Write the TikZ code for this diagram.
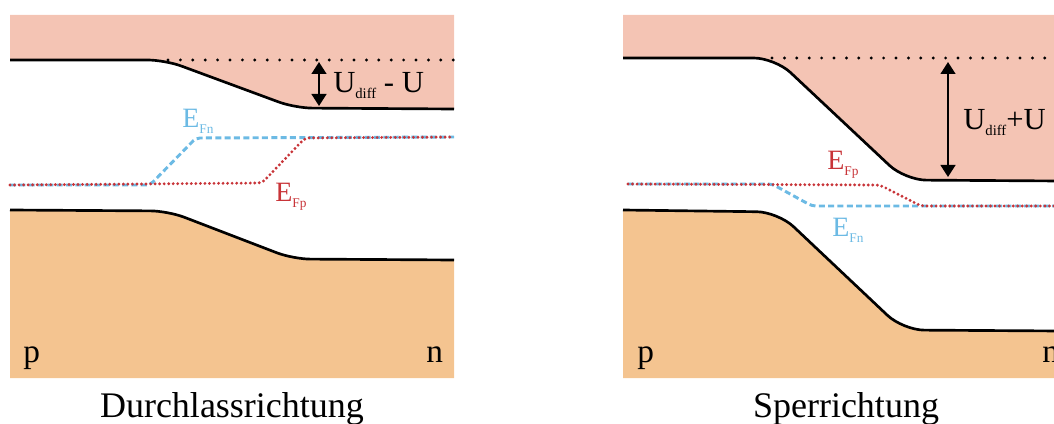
\documentclass[tikz,border=0pt]{standalone}
\usepackage{fontspec}
\setmainfont{Liberation Serif}
\usetikzlibrary{arrows.meta}
\definecolor{cbpink}{RGB}{244,196,180}
\definecolor{vborange}{RGB}{244,196,144}
\definecolor{fnblue}{RGB}{108,186,228}
\definecolor{fpred}{RGB}{200,52,56}
\newcommand\subtxt[2][11]{\raisebox{-4pt}{\fontsize{#1}{#1}\selectfont #2}}
\begin{document}
\begin{tikzpicture}[x=0.75pt,y=-0.75pt,
 band/.style={line width=2pt, rounded corners=13pt},
 refdots/.style={line width=2.4pt, line cap=round, dash pattern=on 0pt off 9.3pt},
 fnline/.style={fnblue, line width=2.2pt, dash pattern=on 4.5pt off 2.5pt},
 fpline/.style={fpred, line width=2.4pt, line cap=round, dash pattern=on 0pt off 3.4pt},
 gap/.style={line width=1.8pt, {Triangle[width=11pt,length=9pt]}-{Triangle[width=11pt,length=9pt]}},
 lbl/.style={inner sep=0pt, anchor=base west, font=\fontsize{23}{23}\selectfont},
 elbl/.style={inner sep=0pt, anchor=base west, font=\fontsize{21}{21}\selectfont},
 pnlbl/.style={inner sep=0pt, anchor=base west, font=\fontsize{25}{25}\selectfont},
 title/.style={inner sep=0pt, anchor=base, font=\fontsize{27}{27}\selectfont},
]
\clip (0,0) rectangle (1054,424);

% ---------- left panel: Durchlassrichtung ----------
\fill[cbpink] (10,15) -- (454,15) -- (454,109) [rounded corners=13pt] -- (295,108) -- (165,60) [sharp corners] -- (10,60) -- cycle;
\fill[vborange] (10,378) -- (10,210) [rounded corners=13pt] -- (168,211) -- (293,259) [sharp corners] -- (454,260) -- (454,378) -- cycle;
\draw[band] (10,60) -- (165,60) -- (295,108) -- (454,109);
\draw[band] (10,210) -- (168,211) -- (293,259) -- (454,260);
\draw[refdots] (168,60) -- (454,60);
\draw[fnline, rounded corners=3pt] (10,185) -- (150,185) -- (196,138) -- (454,137);
\draw[fpline, rounded corners=3pt] (10,185) -- (262,183) -- (305,138) -- (454,137);
\coordinate (la1) at (319,62);
\coordinate (la2) at (319,106);
\draw[gap] (la1) -- (la2);
\node[lbl] (udl) at (333,93) {U\subtxt{diff} - U};
\node[elbl, text=fnblue] (efnl) at (182,128) {E\subtxt[10]{Fn}};
\node[elbl, text=fpred] (efpl) at (275,202) {E\subtxt[10]{Fp}};
\node[pnlbl] (pl) at (23,363) {p};
\node[pnlbl] (nl) at (426,363) {n};
\node[title] (tl) at (232,417) {Durchlassrichtung};

% ---------- right panel: Sperrichtung ----------
\fill[cbpink] (623,15) -- (1060,15) -- (1060,181) [rounded corners=16pt] -- (905,180) -- (775,58) [sharp corners] -- (623,58) -- cycle;
\fill[vborange] (623,378) -- (623,210) [rounded corners=16pt] -- (778,212) -- (903,330) [sharp corners] -- (1060,331) -- (1060,378) -- cycle;
\draw[band, rounded corners=16pt] (623,58) -- (775,58) -- (905,180) -- (1060,181);
\draw[band, rounded corners=16pt] (623,210) -- (778,212) -- (903,330) -- (1060,331);
\draw[refdots] (772,58) -- (1060,58);
\draw[fnline, rounded corners=3pt] (628,184) -- (772,184) -- (812,206) -- (1060,206);
\draw[fpline, rounded corners=3pt] (628,184) -- (880,185) -- (921,206) -- (1060,206);
\coordinate (ra1) at (948,62);
\coordinate (ra2) at (948,177);
\draw[gap] (ra1) -- (ra2);
\node[lbl] (udr) at (963,130) {U\subtxt{diff}+U};
\node[elbl, text=fpred] (efpr) at (827,170) {E\subtxt[10]{Fp}};
\node[elbl, text=fnblue] (efnr) at (832,237) {E\subtxt[10]{Fn}};
\node[pnlbl] (pr) at (637,363) {p};
\node[pnlbl] (nr) at (1042,363) {n};
\node[title] (tr) at (846,417) {Sperrichtung};
\end{tikzpicture}
\end{document}
